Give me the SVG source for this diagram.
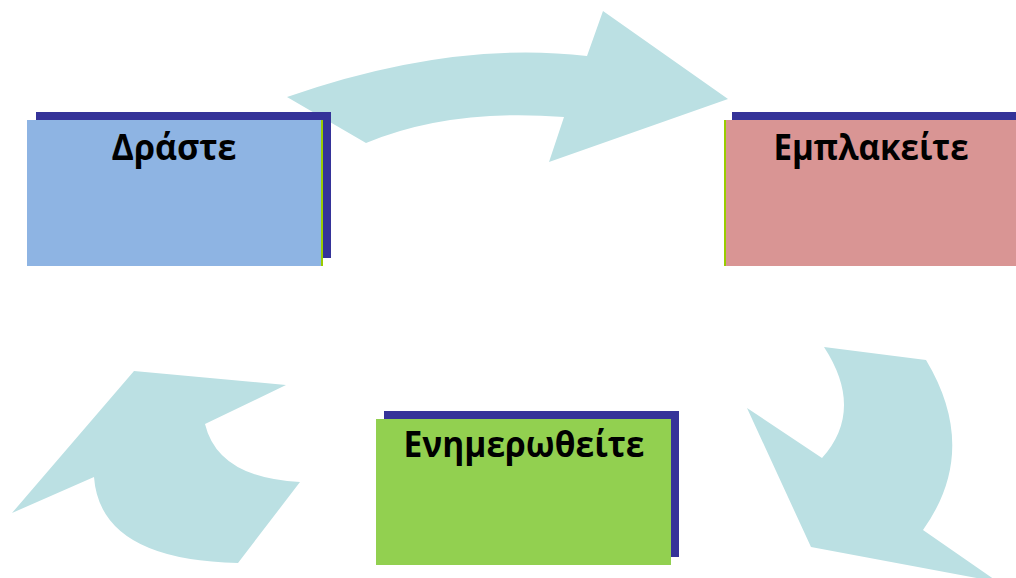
<svg xmlns="http://www.w3.org/2000/svg" width="1016" height="578" viewBox="0 0 1016 578">
<style>
.arrow{fill:#BBE0E3}
.shadow{fill:#353399}
.lbl{font-family:"Open Sans","Noto Sans","Liberation Sans",sans-serif;font-weight:bold;font-size:36px;fill:#000;text-anchor:middle}
.edge{stroke:#99CC00;stroke-width:2}
</style>
<rect width="1016" height="578" fill="#fff"/>
<g id="connectors">
<path class="arrow" d="M287,97 Q450,40 587,56 L603,11 L728,99 L549,162 L564,117 Q450,108 366,143 Z"/>
<path class="arrow" d="M824,347 L926,360 Q980,450 923,530 L998,582 L811,547 L747,408 L822,458 Q865,410 824,347 Z"/>
<path class="arrow" d="M134,371 L286,385 L205,424 Q218,478 300,482 L238,563 Q100,560 94,477 L12,513 Z"/>
</g>
<g id="node-drasete">
<rect class="shadow" x="36" y="112" width="295" height="146"/>
<rect x="27" y="120" width="296" height="146" fill="#8EB4E3"/>
<line class="edge" x1="322" y1="120" x2="322" y2="266"/>
<text class="lbl" x="174" y="160" textLength="125" lengthAdjust="spacingAndGlyphs">Δράστε</text>
</g>
<g id="node-emplakeite">
<rect class="shadow" x="732" y="112" width="290" height="146"/>
<rect x="724" y="120" width="298" height="146" fill="#D99594"/>
<line class="edge" x1="725" y1="120" x2="725" y2="266"/>
<text class="lbl" x="871" y="160" textLength="195" lengthAdjust="spacingAndGlyphs">Εμπλακείτε</text>
</g>
<g id="node-enimerotheite">
<rect class="shadow" x="384" y="411" width="295" height="146"/>
<rect x="376" y="419" width="295" height="146" fill="#92D050"/>
<text class="lbl" x="524" y="457" textLength="241" lengthAdjust="spacingAndGlyphs">Ενημερωθείτε</text>
</g>
</svg>
